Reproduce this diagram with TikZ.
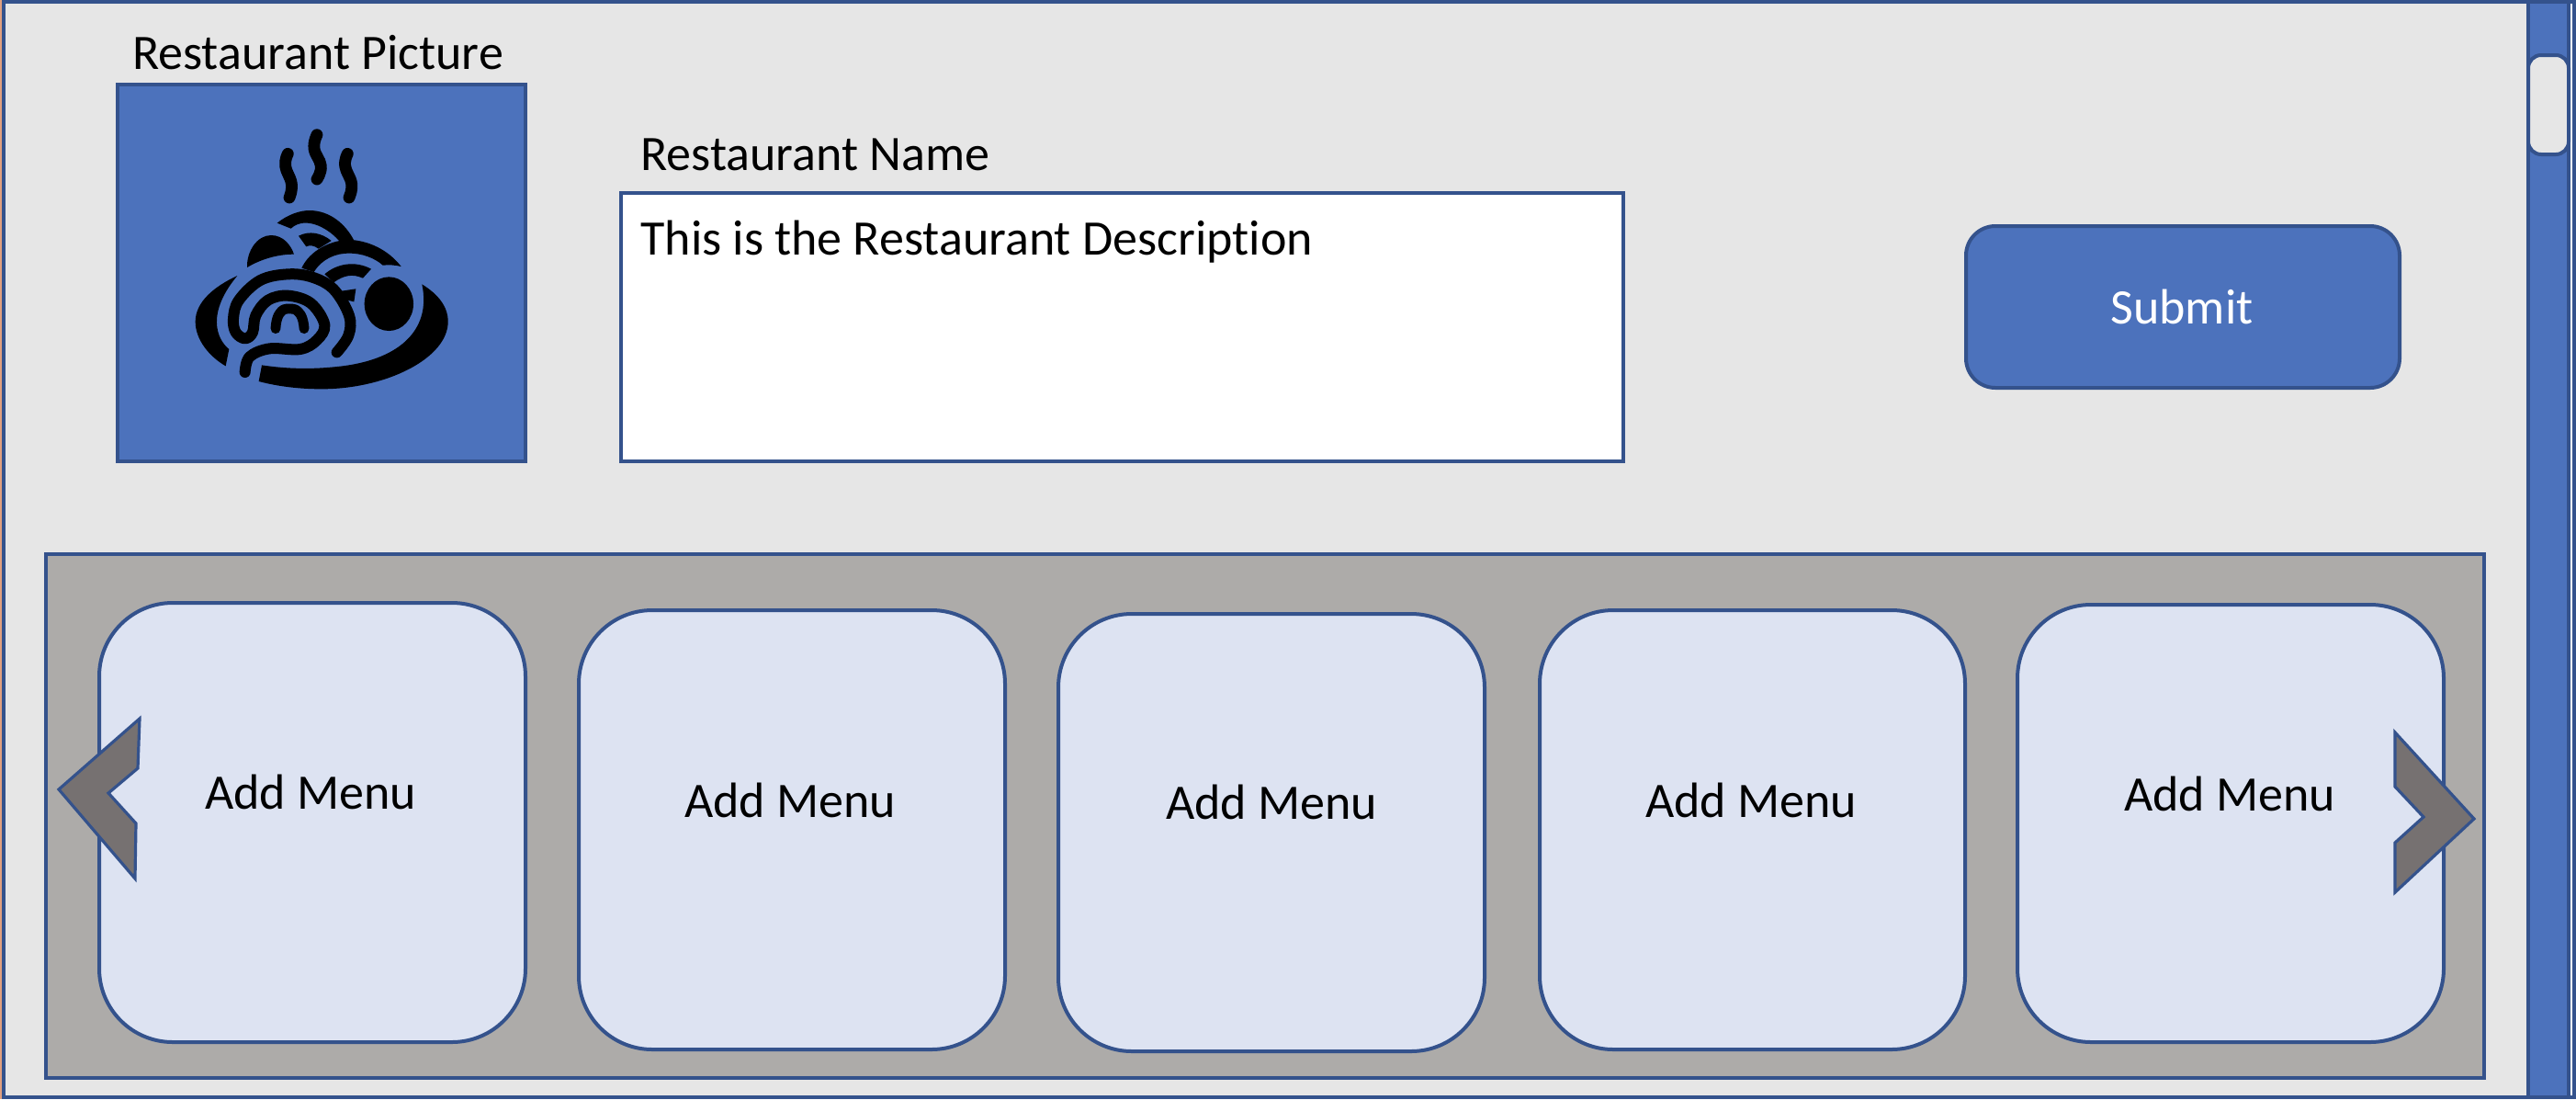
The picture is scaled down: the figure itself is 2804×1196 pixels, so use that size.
\documentclass[tikz,border=0pt]{standalone}
\usepackage{fontspec}
\setmainfont[Ligatures=NoCommon]{Carlito}
\definecolor{bluefill}{HTML}{4C72BC}
\definecolor{edgeblue}{HTML}{34528C}
\definecolor{pagegray}{HTML}{E6E6E6}
\definecolor{panelgray}{HTML}{ADABA9}
\definecolor{cardblue}{HTML}{DDE3F2}
\definecolor{arrowgray}{HTML}{767171}
\definecolor{sliver}{HTML}{E0A080}
\tikzset{
  edged/.style={draw=edgeblue,line width=2pt,line join=miter},
  cardbox/.style={edged,fill=cardblue,rounded corners=40pt},
  chevron/.style={edged,fill=arrowgray,line width=1.6pt},
  lbl/.style={font=\fontsize{27}{31}\selectfont,inner sep=0pt,anchor=base,text=black},
  lblw/.style={lbl,anchor=base west},
  noodle/.style={draw=black,line cap=round,line join=round,line width=6pt},
  fat/.style={fill=black,draw=none}
}
\begin{document}
\begin{tikzpicture}[x=0.5pt,y=-0.5pt]
\useasboundingbox (0,0) rectangle (2804,1196);
\fill[white] (0,0) rectangle (2804,1196);
\fill[sliver] (0,0) rectangle (2,1196);
\fill[pagegray] (4,2) rectangle (2750,1194);
\draw[edged,fill=bluefill] (2752,2) rectangle (2796,1194);
\draw[edged] (4,2) rectangle (2802,1194);
\draw[edged,fill=pagegray,rounded corners=7pt] (2752,60) rectangle (2796,168);
% picture box
\draw[edged,fill=bluefill] (128,92) rectangle (572,502);
% icon, in zoom coordinates
\begin{scope}[shift={(100,60)},x=0.16667pt,y=-0.16667pt]
  \draw[noodle,line width=6.4pt] plot[smooth,tension=.8] coordinates {(640,322)(632,362)(652,420)(645,465)};
  \draw[noodle,line width=6.4pt] plot[smooth,tension=.8] coordinates {(735,260)(726,305)(748,362)(735,405)};
  \draw[noodle,line width=6.4pt] plot[smooth,tension=.8] coordinates {(835,322)(827,362)(848,420)(840,465)};
  % plate
  \fill[fat] (475,720) .. controls (400,755) and (338,805) .. (338,870) .. controls (338,930) and (385,985) .. (437,1015) -- (448,960) .. controls (405,925) and (375,840) .. (475,720) -- cycle;
  \fill[fat] (1078,748) .. controls (1130,780) and (1163,820) .. (1163,870) .. controls (1163,990) and (960,1090) .. (750,1090) .. controls (680,1090) and (610,1082) .. (545,1065) -- (555,1012) .. controls (640,1025) and (720,1025) .. (790,1018) .. controls (1000,1000) and (1110,900) .. (1078,748) -- cycle;
  % egg
  \fill[fat] (970,812) ellipse [x radius=80,y radius=88];
  % bumps and arcs
  \fill[fat] (507,693) .. controls (505,640) and (540,588) .. (585,588) .. controls (625,588) and (650,620) .. (660,650) .. controls (600,650) and (545,670) .. (507,693) -- cycle;
  \fill[fat] (605,548) .. controls (640,520) and (680,507) .. (710,507) .. controls (780,507) and (830,555) .. (855,603) -- (812,612) .. controls (780,570) and (700,520) .. (650,566) -- cycle;
  \fill[fat] (675,590) .. controls (710,572) and (750,580) .. (782,606) -- (740,632) .. controls (725,620) and (710,620) .. (700,625) -- cycle;
  \fill[fat] (685,695) .. controls (710,640) and (780,600) .. (850,603) .. controls (920,610) and (975,645) .. (1010,690) .. controls (990,685) and (970,684) .. (950,686) .. controls (900,640) and (780,620) .. (725,708) -- cycle;
  \fill[fat] (760,715) .. controls (800,680) and (860,670) .. (912,698) -- (885,728) .. controls (850,712) and (820,720) .. (790,742) -- cycle;
  \fill[fat] (815,770) -- (862,763) -- (856,805) -- (835,800) -- cycle;
  % main noodle
  \draw[noodle] plot[smooth,tension=.6] coordinates {(800,970)(838,915)(840,850)(790,765)(720,725)(640,715)(550,735)(480,800)(462,860)(470,905)(500,925)(525,905)(535,850)(575,800)(640,785)(715,810)(760,880)(735,930)(680,960)(580,958)(515,985)(500,1035)};
  \draw[noodle,line width=5.4pt] plot[smooth,tension=.9] coordinates {(600,893)(612,845)(645,828)(680,845)(693,893)};
\end{scope}
% description box
\draw[edged,fill=white] (676,210) rectangle (1767,502);
% submit
\draw[edged,fill=bluefill,rounded corners=16pt] (2140,246) rectangle (2612,422);
% panel
\draw[edged,fill=panelgray] (50,603) rectangle (2704,1173);
% cards
\draw[cardbox] (108,656) rectangle (572,1134);
\draw[cardbox] (630,664) rectangle (1094,1142);
\draw[cardbox] (1152,668) rectangle (1616,1144);
\draw[cardbox] (1676,664) rectangle (2139,1142);
\draw[cardbox] (2196,658) rectangle (2660,1134);
% chevrons
\draw[chevron] (64,859) -- (152,782) -- (150,836) -- (118,863) -- (148,896) -- (147,956) -- cycle;
\draw[chevron] (2607,797) -- (2693,891) -- (2607,971) -- (2607,917) -- (2638,889) -- (2607,856) -- cycle;
% texts
\node[lbl] (tpic) at (346,75) {Restaurant Picture};
\node[lblw] (tname) at (697,185) {Restaurant Name};
\node[lblw] (tdesc) at (697,277) {This is the Restaurant Description};
\node[lbl,text=white] (tsub) at (2375,352) {Submit};
\node[lbl] (tm1) at (338,880) {Add Menu};
\node[lbl] (tm2) at (860,889) {Add Menu};
\node[lbl] (tm3) at (1384,891) {Add Menu};
\node[lbl] (tm4) at (1906,889) {Add Menu};
\node[lbl] (tm5) at (2427,882) {Add Menu};
\end{tikzpicture}
\end{document}
